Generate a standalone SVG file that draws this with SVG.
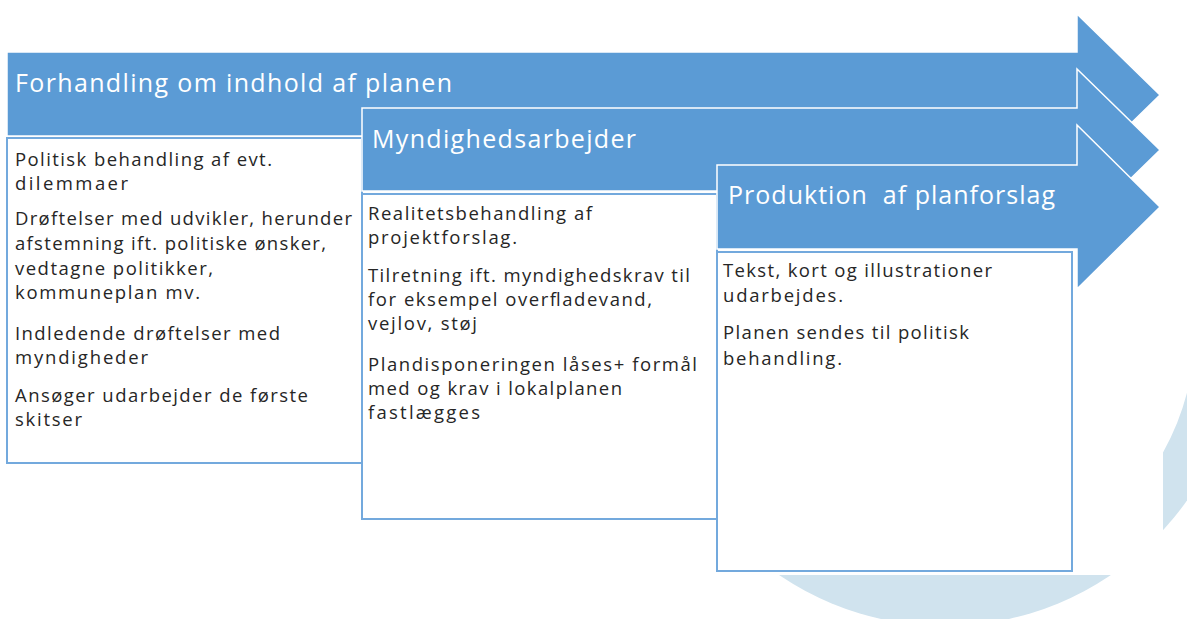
<svg xmlns="http://www.w3.org/2000/svg" width="1187" height="619" viewBox="0 0 1187 619">
  <style>
    .arrow { fill: #5b9bd5; stroke: #ffffff; stroke-width: 1.5; }
    .box { fill: #ffffff; stroke: #73a9dd; stroke-width: 2; }
    .head { font-family: "Open Sans", "Noto Sans", sans-serif; font-size: 25px; fill: #ffffff; white-space: pre; }
    .body { font-family: "Open Sans", "Noto Sans", sans-serif; font-size: 18.5px; fill: #262626; }
  </style>
  <rect x="0" y="0" width="1187" height="619" fill="#ffffff"/>
  <g id="background">
    <circle cx="945" cy="330" r="296" fill="#d0e3ee"/>
    <path d="M0,0 H1187 V392.7 A250,250 0 0,1 1163,452.4 V575 H0 Z" fill="#ffffff"/>
  </g>
  <g id="connectors"></g>
  <g id="arrow1">
    <path class="arrow" d="M7,52 H1077 V14 L1160,95 L1077,176 V136 H7 Z"/>
    <text class="head" x="15" y="92" textLength="437">Forhandling om indhold af planen</text>
  </g>
  <g id="box1">
    <rect class="box" x="7" y="138" width="355" height="325"/>
    <text class="body" x="15" y="166" textLength="257">Politisk behandling af evt.</text>
    <text class="body" x="15" y="190" textLength="113">dilemmaer</text>
    <text class="body" x="15" y="225" textLength="337">Drøftelser med udvikler, herunder</text>
    <text class="body" x="15" y="250" textLength="311">afstemning ift. politiske ønsker,</text>
    <text class="body" x="15" y="275" textLength="198">vedtagne politikker,</text>
    <text class="body" x="15" y="299" textLength="185">kommuneplan mv.</text>
    <text class="body" x="15" y="340" textLength="265">Indledende drøftelser med</text>
    <text class="body" x="15" y="364" textLength="133">myndigheder</text>
    <text class="body" x="15" y="402" textLength="293">Ansøger udarbejder de første</text>
    <text class="body" x="15" y="426" textLength="67">skitser</text>
  </g>
  <g id="arrow2">
    <path class="arrow" d="M362,108 H1077 V69 L1160,150 L1077,231 V191 H362 Z"/>
    <text class="head" x="372" y="148" textLength="264">Myndighedsarbejder</text>
  </g>
  <g id="box2">
    <rect class="box" x="362" y="194" width="355" height="325"/>
    <text class="body" x="368" y="220" textLength="224">Realitetsbehandling af</text>
    <text class="body" x="368" y="244" textLength="149">projektforslag.</text>
    <text class="body" x="368" y="282" textLength="322">Tilretning ift. myndighedskrav til</text>
    <text class="body" x="368" y="306" textLength="284">for eksempel overfladevand,</text>
    <text class="body" x="368" y="330" textLength="109">vejlov, støj</text>
    <text class="body" x="368" y="371" textLength="329">Plandisponeringen låses+ formål</text>
    <text class="body" x="368" y="395" textLength="254">med og krav i lokalplanen</text>
    <text class="body" x="368" y="419" textLength="112">fastlægges</text>
  </g>
  <g id="arrow3">
    <path class="arrow" d="M717,165 H1077 V125 L1160,207 L1077,289 V249 H717 Z"/>
    <text class="head" x="728" y="204" textLength="327">Produktion  af planforslag</text>
  </g>
  <g id="box3">
    <rect class="box" x="717" y="252" width="355" height="319"/>
    <text class="body" x="723" y="277" textLength="269">Tekst, kort og illustrationer</text>
    <text class="body" x="723" y="302" textLength="120">udarbejdes.</text>
    <text class="body" x="723" y="339" textLength="246">Planen sendes til politisk</text>
    <text class="body" x="723" y="365" textLength="119">behandling.</text>
  </g>
</svg>
